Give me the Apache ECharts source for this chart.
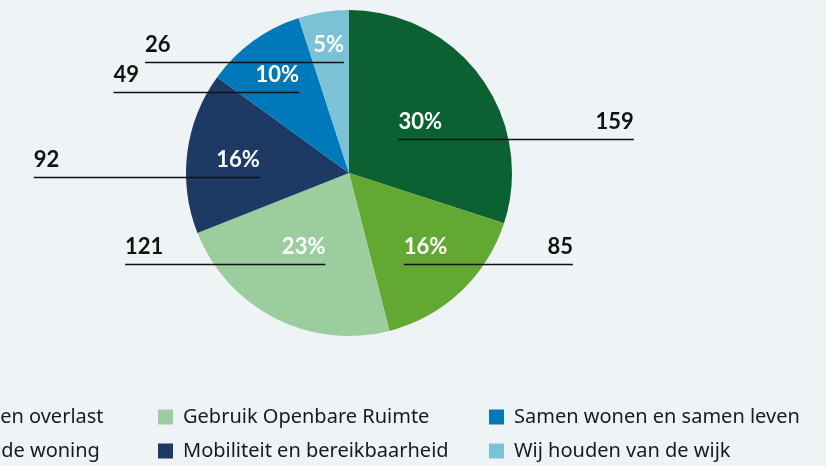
<!DOCTYPE html>
<html>
<head>
<meta charset="utf-8">
<script src="https://cdn.jsdelivr.net/npm/echarts@6/dist/echarts.min.js"></script>
<style>
html, body { margin: 0; padding: 0; background: #eef3f6; }
#main { width: 826px; height: 466px; }
</style>
</head>
<body>
<div id="main"></div>
<script>
// slices clockwise from 12 o'clock
var categories = ['Openbare orde en overlast', 'Onderhoud aan de woning', 'Gebruik Openbare Ruimte',
    'Mobiliteit en bereikbaarheid', 'Samen wonen en samen leven', 'Wij houden van de wijk'];
var counts = [159, 85, 121, 92, 49, 26];
var percents = [30, 16, 23, 16, 10, 5];
var legendOrder = ['Openbare orde en overlast', 'Gebruik Openbare Ruimte', 'Samen wonen en samen leven',
    'Onderhoud aan de woning', 'Mobiliteit en bereikbaarheid', 'Wij houden van de wijk'];
var colors = ['#0b6131', '#62a832', '#9bcd9f', '#1c3a63', '#0079ba', '#7cc2d7'];

var cx = 349, cy = 173, R = 163;
var labelFont = 'bold 22px Lato';

var total = percents.reduce(function (a, b) { return a + b; }, 0);

var ctx = document.createElement('canvas').getContext('2d');
ctx.font = labelFont;
function textWidth(t) { return ctx.measureText(t).width; }

// % label sits near the middle of the slice (smaller slices further out),
// a line runs under it out to the count
function slot(i) {
    var before = 0;
    for (var j = 0; j < i; j++) before += percents[j];
    var mid = (before + percents[i] / 2) / total * Math.PI * 2;
    var r = 139 - 1.7 * percents[i];
    var px = cx + r * Math.sin(mid);
    var py = cy - r * Math.cos(mid);
    var right = Math.sin(mid) >= 0;
    var lineY = Math.min(Math.round(py + 18), cy + 91) + 0.5;
    py = lineY - 18;
    var dy = Math.abs(lineY - cy);
    var reach = 320 - 1.05 * dy;
    var half = textWidth(percents[i] + '%') / 2;
    return {
        right: right,
        px: px,
        py: py,
        lineY: lineY,
        inner: right ? px - half : px + half,
        outer: right ? cx + reach : cx - reach
    };
}

var chart = echarts.init(document.getElementById('main'));

var option = {
    backgroundColor: '#eef3f6',
    animation: false,
    color: colors,
    legend: {
        data: legendOrder.map(function (name) {
            // this one sits a little tighter to its swatch
            if (name === 'Onderhoud aan de woning') {
                return { name: name, textStyle: { padding: [0, 0, 0, 0], width: 311 } };
            }
            return name;
        }),
        orient: 'horizontal',
        left: -173,
        top: 400,
        width: 1000,
        padding: 0,
        itemWidth: 15,
        itemHeight: 15,
        itemGap: 0,
        icon: 'rect',
        selectedMode: false,
        textStyle: {
            fontFamily: 'Noto Sans',
            fontSize: 20,
            color: '#1a1a1a',
            width: 306,
            lineHeight: 34,
            padding: [0, 0, 0, 5]
        }
    },
    series: [
        {
            type: 'pie',
            z: 2,
            center: [cx, cy],
            radius: [0, R],
            silent: true,
            data: categories.map(function (name, i) {
                return { name: name, value: percents[i] };
            }),
            itemStyle: { borderWidth: 0 },
            label: {
                show: true,
                position: 'inside',
                formatter: function (p) { return percents[p.dataIndex] + '%'; },
                fontFamily: 'Lato',
                fontWeight: 'bold',
                fontSize: 22,
                lineHeight: 22,
                color: '#fff'
            },
            labelLine: { show: false },
            labelLayout: function (p) {
                var s = slot(p.dataIndex);
                return { x: s.px, y: s.py, align: 'center', verticalAlign: 'middle' };
            }
        },
        {
            // transparent copy on top, carries the counts and their lines
            type: 'pie',
            z: 5,
            center: [cx, cy],
            radius: [0, R],
            silent: true,
            data: categories.map(function (name, i) {
                return { name: name + ' (aantal)', value: percents[i] };
            }),
            itemStyle: { color: 'rgba(0,0,0,0)', borderWidth: 0 },
            label: {
                show: true,
                position: 'outside',
                formatter: function (p) { return String(counts[p.dataIndex]); },
                fontFamily: 'Lato',
                fontWeight: 'bold',
                fontSize: 22,
                lineHeight: 22,
                color: '#111'
            },
            labelLine: {
                show: true,
                lineStyle: { color: '#111', width: 1.5 }
            },
            labelLayout: function (p) {
                var s = slot(p.dataIndex);
                return {
                    x: s.outer,
                    y: s.lineY - 18,
                    align: s.right ? 'right' : 'left',
                    verticalAlign: 'middle',
                    labelLinePoints: [[s.inner, s.lineY], [s.inner, s.lineY], [s.outer, s.lineY]]
                };
            }
        }
    ]
};

chart.setOption(option);
</script>
</body>
</html>
